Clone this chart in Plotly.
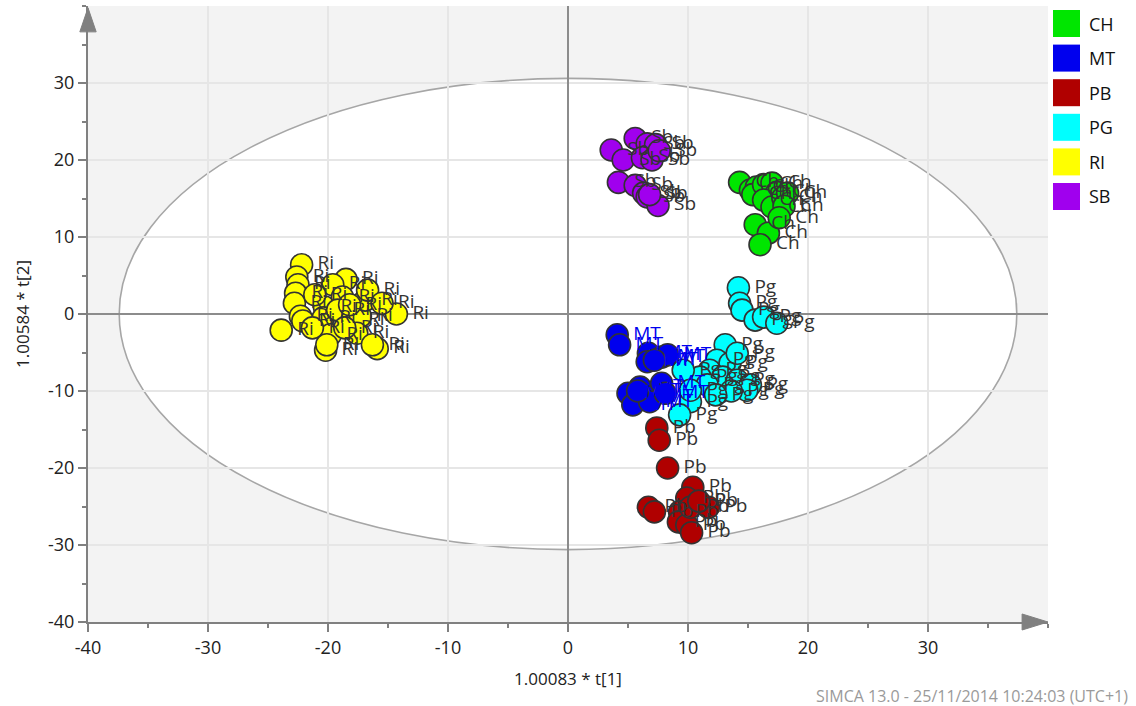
import plotly.graph_objects as go

# ---------------- data ----------------
groups = ["CH", "MT", "PB", "PG", "RI", "SB"]
point_labels = {"CH": "Ch", "MT": "MT", "PB": "Pb", "PG": "Pg", "RI": "Ri", "SB": "Sb"}
colors = {"CH": "#00e600", "MT": "#0000ee", "PB": "#b00000",
          "PG": "#00ffff", "RI": "#ffff00", "SB": "#a000ee"}

ch_x = [14.3, 15.2, 15.7, 15.4, 16.3, 17.0, 17.4, 16.3, 17.0, 15.6, 16.7, 16.0, 17.9, 18.3, 18.0, 17.6]
ch_y = [17.1, 16.1, 16.5, 15.5, 16.8, 17.0, 15.8, 14.8, 13.9, 11.6, 10.5, 9.0, 15.1, 15.7, 14.0, 12.5]

mt_x = [4.1, 4.3, 6.7, 6.6, 7.8, 8.3, 5.0, 5.4, 6.0, 6.8, 7.8, 6.8, 8.1, 7.2, 5.8]
mt_y = [-2.7, -4.0, -5.1, -6.2, -5.6, -5.3, -10.3, -11.8, -9.5, -10.8, -9.0, -11.4, -10.3, -6.0, -10.0]

pb_x = [7.4, 7.6, 8.3, 10.4, 6.7, 7.2, 9.9, 9.3, 9.2, 9.9, 10.3, 11.7, 10.2, 10.9]
pb_y = [-14.8, -16.4, -20.0, -22.5, -25.1, -25.7, -23.9, -25.7, -27.0, -27.4, -28.4, -25.1, -25.1, -24.3]

pg_x = [14.2, 14.3, 14.5, 15.6, 16.3, 17.4, 13.1, 12.4, 13.5, 14.1, 11.8, 11.0, 12.9, 14.1,
        15.2, 14.9, 11.6, 10.2, 9.3, 9.6, 10.2, 13.6, 12.3]
pg_y = [3.4, 1.4, 0.5, -0.8, -0.4, -1.2, -4.0, -6.0, -6.4, -5.1, -7.3, -8.2, -8.2, -8.6,
        -9.2, -9.9, -9.2, -11.4, -13.1, -7.3, -9.9, -10.0, -10.5]

ri_x = [-22.2, -23.9, -14.3, -15.9, -20.2, -22.6, -22.5, -22.7, -22.8, -22.3, -22.1, -20.3,
        -20.4, -19.8, -20.1, -18.5, -19.6, -18.8, -19.2, -18.0, -17.3, -16.9, -16.7, -17.6,
        -16.3, -15.5, -21.1, -18.2, -21.3, -18.6]
ri_y = [6.4, -2.1, 0.0, -4.5, -4.7, 4.8, 3.8, 2.7, 1.4, -0.3, -0.9, 0.9,
        -0.5, -2.7, -4.0, 4.5, 3.8, 2.2, 0.5, -0.8, -0.3, 1.8, 3.1, -2.5,
        -4.0, 1.4, 2.5, 1.2, -1.8, -1.8]

sb_x = [3.6, 4.6, 5.6, 6.6, 7.3, 6.2, 7.0, 7.6, 4.2, 5.6, 6.3, 6.6, 7.5, 6.8]
sb_y = [21.3, 20.0, 22.8, 22.1, 22.0, 20.3, 20.0, 21.2, 17.1, 16.7, 15.7, 15.2, 14.1, 15.5]

series = {"CH": (ch_x, ch_y), "MT": (mt_x, mt_y), "PB": (pb_x, pb_y),
          "PG": (pg_x, pg_y), "RI": (ri_x, ri_y), "SB": (sb_x, sb_y)}

ellipse_a = 37.4
ellipse_b = 30.6
tick_vals = [-40, -30, -20, -10, 0, 10, 20, 30]
tick_text = ["-40", "-30", "-20", "-10", "0", "10", "20", "30"]
x_title = "1.00083 * t[1]"
y_title = "1.00584 * t[2]"
footer = "SIMCA 13.0 - 25/11/2014 10:24:03 (UTC+1)"

FONT = "Open Sans, Noto Sans, DejaVu Sans, sans-serif"
MSIZE = 22

fig = go.Figure()

draw_order = ["RI", "SB", "CH", "PB", "PG", "MT"]
for g in draw_order:
    xs, ys = series[g]
    fig.add_trace(go.Scatter(
        x=xs, y=ys, mode="markers", name=g, showlegend=False, hoverinfo="skip",
        marker=dict(size=MSIZE, color=colors[g], line=dict(color="#333333", width=1.6)),
    ))
for g in draw_order:
    xs, ys = series[g]
    fig.add_trace(go.Scatter(
        x=xs, y=ys, mode="markers+text", showlegend=False, hoverinfo="skip",
        marker=dict(size=MSIZE + 2, color="rgba(0,0,0,0)", line=dict(width=0)),
        text=[point_labels[g]] * len(xs), textposition="middle right",
        textfont=dict(family=FONT, size=19,
                      color="#0000ee" if g == "MT" else "#333333"),
    ))

shapes = [
    dict(type="circle", xref="x", yref="y", x0=-ellipse_a, x1=ellipse_a,
         y0=-ellipse_b, y1=ellipse_b, fillcolor="white",
         line=dict(color="#a6a6a6", width=1.6), layer="below"),
    # arrow on y axis (top)
    dict(type="path", xref="paper", yref="paper",
         path="M -0.0085 0.958 L 0 0.997 L 0.0085 0.958 Z",
         fillcolor="#808080", line=dict(color="#808080", width=1), layer="above"),
    # arrow on x axis (right)
    dict(type="path", xref="paper", yref="paper",
         path="M 0.973 -0.013 L 1.0 0 L 0.973 0.013 Z",
         fillcolor="#808080", line=dict(color="#808080", width=1), layer="above"),
]

annotations = [
    dict(text=footer, xref="paper", yref="paper", x=(1130 - 88) / 960,
         y=1 - (696 - 6) / 616, xanchor="right", yanchor="middle", showarrow=False,
         font=dict(family=FONT, size=16, color="#9a9a9a")),
]

# legend (drawn manually at the right of the plot)
leg_y0 = 10
for i, g in enumerate(groups):
    top = leg_y0 + i * 34.6
    shapes.append(dict(type="rect", xref="paper", yref="paper",
                       x0=(1053 - 88) / 960, x1=(1080 - 88) / 960,
                       y0=1 - (top + 27 - 6) / 616, y1=1 - (top - 6) / 616,
                       fillcolor=colors[g], line=dict(width=0)))
    annotations.append(dict(text=g, xref="paper", yref="paper",
                            x=(1087 - 88) / 960, y=1 - (top + 13.5 - 6) / 616,
                            xanchor="left", yanchor="middle", showarrow=False,
                            font=dict(family=FONT, size=18, color="#111111")))

axis_common = dict(
    range=[-40, 40], tickvals=tick_vals, ticktext=tick_text,
    showgrid=True, gridcolor="#e6e6e6", gridwidth=2,
    zeroline=True, zerolinecolor="#8c8c8c", zerolinewidth=2,
    showline=True, linecolor="#808080", linewidth=2,
    ticks="outside", ticklen=8, tickwidth=2, tickcolor="#808080",
    tickfont=dict(family=FONT, size=18, color="#222222"),
    minor=dict(dtick=5, tick0=0, ticks="outside", ticklen=4, tickwidth=1.5,
               tickcolor="#808080", showgrid=False),
    fixedrange=True,
)

fig.update_layout(
    width=1136, height=706,
    margin=dict(l=88, r=88, t=6, b=84),
    paper_bgcolor="white", plot_bgcolor="#f3f3f3",
    xaxis=dict(**axis_common, title=dict(text=x_title, font=dict(family=FONT, size=17, color="#222222"), standoff=16)),
    yaxis=dict(**axis_common, title=dict(text=y_title, font=dict(family=FONT, size=17, color="#222222"), standoff=14)),
    shapes=shapes, annotations=annotations, showlegend=False,
    font=dict(family=FONT),
)

fig.write_html("out.html", config={"displayModeBar": False})
